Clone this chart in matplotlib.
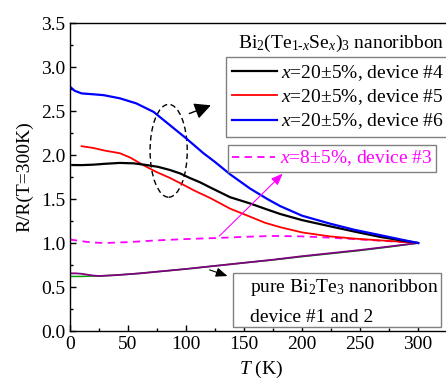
import matplotlib
matplotlib.use("Agg")
import matplotlib.pyplot as plt
from matplotlib.patches import Ellipse, Rectangle
from matplotlib.ticker import MultipleLocator

plt.rcParams['font.family'] = ['Liberation Serif', 'DejaVu Serif']
plt.rcParams['mathtext.fontset'] = 'custom'
plt.rcParams['mathtext.rm'] = 'Liberation Serif'
plt.rcParams['mathtext.it'] = 'Liberation Serif:italic'
plt.rcParams['font.size'] = 14

# ---- data ----
T_dev6 = [0, 4, 10, 20, 29, 43, 57, 72, 86, 100, 115, 125, 138, 155, 170, 181, 200, 224, 245, 267, 285, 300]
R_dev6 = [2.776, 2.73, 2.70, 2.69, 2.68, 2.644, 2.587, 2.49, 2.34, 2.19, 2.02, 1.92, 1.78, 1.62, 1.50, 1.42, 1.31, 1.22, 1.15, 1.09, 1.04, 1.00]

T_dev4 = [2, 10, 20, 30, 43, 55, 66, 76, 86, 95, 103, 112, 121, 138, 155, 170, 181, 200, 224, 245, 267, 285, 300]
R_dev4 = [1.886, 1.885, 1.89, 1.90, 1.91, 1.905, 1.886, 1.865, 1.83, 1.79, 1.74, 1.69, 1.63, 1.52, 1.45, 1.38, 1.33, 1.26, 1.19, 1.13, 1.07, 1.03, 1.00]

T_dev5 = [10, 20, 30, 43, 52, 63, 74, 86, 95, 108, 121, 138, 155, 168, 181, 200, 224, 245, 267, 285, 300]
R_dev5 = [2.10, 2.08, 2.05, 2.02, 1.97, 1.886, 1.81, 1.74, 1.68, 1.59, 1.51, 1.39, 1.30, 1.23, 1.18, 1.12, 1.075, 1.05, 1.03, 1.015, 1.00]

T_dev3 = [0, 5, 10, 20, 30, 50, 75, 100, 127, 150, 175, 200, 225, 250, 275, 300]
R_dev3 = [1.04, 1.03, 1.02, 1.005, 1.00, 1.01, 1.03, 1.045, 1.057, 1.07, 1.08, 1.075, 1.06, 1.04, 1.02, 1.00]

T_dev1 = [0, 5, 10, 15, 20, 25, 40, 60, 80, 100, 125, 150, 175, 200, 225, 250, 275, 300]
R_dev1 = [0.655, 0.655, 0.650, 0.640, 0.630, 0.625, 0.635, 0.655, 0.680, 0.705, 0.74, 0.775, 0.81, 0.85, 0.885, 0.92, 0.96, 1.00]

T_dev2 = [0, 10, 20, 25, 40, 60, 80, 100, 125, 150, 175, 200, 225, 250, 275, 300]
R_dev2 = [0.62, 0.62, 0.625, 0.625, 0.635, 0.655, 0.680, 0.705, 0.74, 0.775, 0.808, 0.845, 0.880, 0.915, 0.955, 1.00]

labels = [r'$x$=20±5%, device #4', r'$x$=20±5%, device #5', r'$x$=20±5%, device #6']
label_dev3 = r'$x$=8±5%, device #3'

W, H = 446, 380
def fx(px): return px / W
def fy(py): return 1 - py / H

fig = plt.figure(figsize=(4.46, 3.80), dpi=100)
ax = fig.add_axes([fx(70), fy(331), 383 / W, 308 / H])

l2, = ax.plot(T_dev2, R_dev2, color='#00a000', lw=1.1)
l1, = ax.plot(T_dev1, R_dev1, color='#800080', lw=1.3)
l3, = ax.plot(T_dev3, R_dev3, color='#ff00ff', lw=1.3, ls=(0, (4, 3)))
l5, = ax.plot(T_dev5, R_dev5, color='#ff0000', lw=1.3)
l4, = ax.plot(T_dev4, R_dev4, color='black', lw=1.6)
l6, = ax.plot(T_dev6, R_dev6, color='#0000ff', lw=1.6)

ax.set_xlim(0, 330)
ax.set_ylim(0, 3.5)
ax.xaxis.set_major_locator(MultipleLocator(50))
ax.xaxis.set_minor_locator(MultipleLocator(25))
ax.yaxis.set_major_locator(MultipleLocator(0.5))
ax.yaxis.set_minor_locator(MultipleLocator(0.25))
ax.tick_params(which='both', direction='in', top=False, right=False)
ax.tick_params(which='major', length=4.5, width=1)
ax.tick_params(which='minor', length=2.5, width=1)
for s in ax.spines.values():
    s.set_linewidth(1.0)
ax.set_xlabel(r'$T$ (K)', labelpad=4)
ax.set_ylabel('R/R(T=300K)', labelpad=5)

# dashed ellipse + arrows
ax.add_patch(Ellipse((85, 2.048), 32, 1.055, fill=False, ls=(0, (4, 2.5)), lw=1.0, ec='black'))
ax.annotate('', xy=(123.6, 2.576), xytext=(100.6, 2.46),
            arrowprops=dict(arrowstyle='-|>,head_length=0.7,head_width=0.35', color='black', lw=1.0))
ax.annotate('', xy=(185, 1.81), xytext=(127, 1.057),
            arrowprops=dict(arrowstyle='-|>,head_length=0.5,head_width=0.2', color='#ff00ff', lw=0.8))
ax.annotate('', xy=(138, 0.614), xytext=(118, 0.705),
            arrowprops=dict(arrowstyle='-|>,head_length=0.5,head_width=0.2', color='black', lw=0.8))

# legends
leg1 = ax.legend([l4, l5, l6], labels, loc='upper left', bbox_to_anchor=(fx(226), fy(57)),
                 bbox_transform=fig.transFigure, borderaxespad=0, fancybox=False, framealpha=1,
                 edgecolor='#808080', handlelength=2.3, handletextpad=0.2, labelspacing=0.22,
                 borderpad=0.32)
leg1.get_frame().set_linewidth(1.0)
ax.add_artist(leg1)
leg2 = ax.legend([l3], [label_dev3], loc='upper left', bbox_to_anchor=(fx(228), fy(145)),
                 bbox_transform=fig.transFigure, borderaxespad=0, fancybox=False, framealpha=1,
                 edgecolor='#808080', handlelength=2.25, handletextpad=0.25, borderpad=0.18,
                 labelcolor='#ff00ff')
leg2.get_frame().set_linewidth(1.0)

fig.text(fx(238), fy(48), r'Bi$_2$(Te$_{1\text{-}x}$Se$_x$)$_3$ nanoribbon', va='baseline', ha='left')

fig.add_artist(Rectangle((fx(233), fy(327)), (441 - 233) / W, (327 - 273) / H,
                         transform=fig.transFigure, fill=True, fc='white', ec='#808080', lw=1.0))
fig.text(fx(250), fy(288), r'pure Bi$_2$Te$_3$ nanoribbon', va='center', ha='left')
fig.text(fx(250), fy(317), 'device #1 and 2', va='center', ha='left')

fig.savefig('out.png', dpi=100)
